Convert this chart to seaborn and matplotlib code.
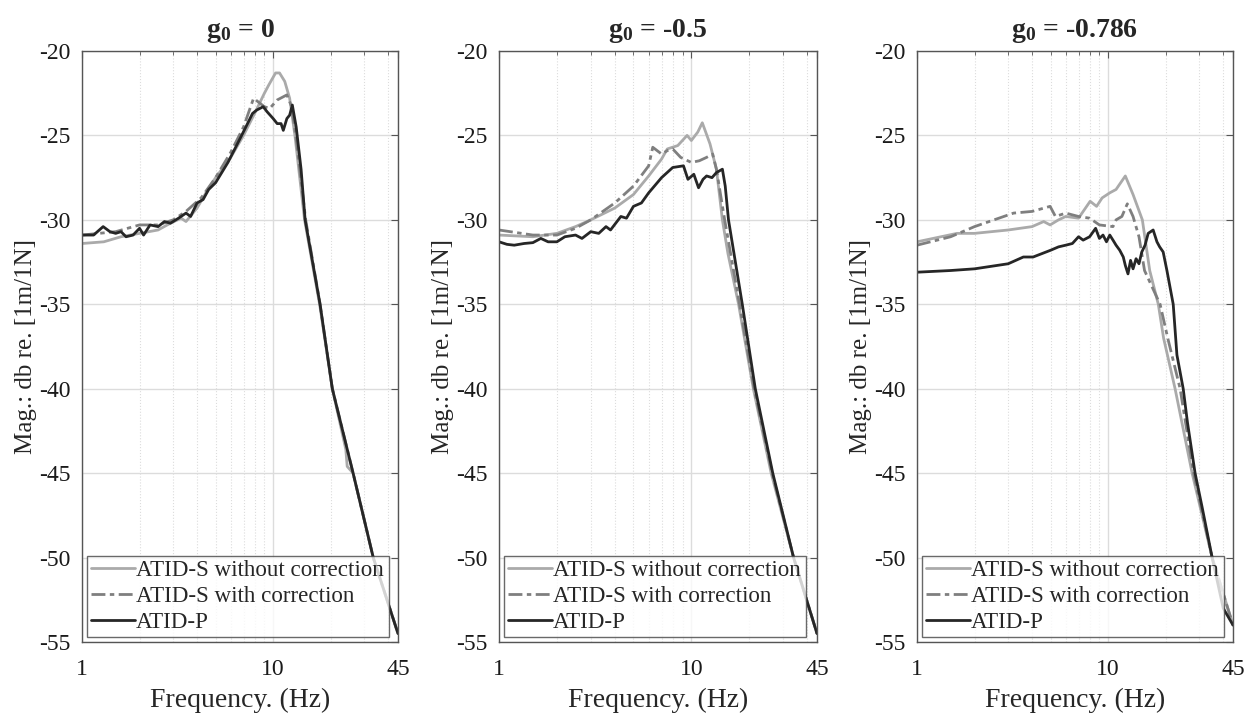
import matplotlib
matplotlib.use('Agg')
import matplotlib.pyplot as plt
import seaborn as sns
import numpy as np
from matplotlib.ticker import FixedLocator, NullFormatter

# ---------------- data ----------------
titles = ['0', '-0.5', '-0.786']
labels = ['ATID-S without correction', 'ATID-S with correction', 'ATID-P']

# g0 = 0
f1_nc = [1, 1.3, 1.6, 2.0, 2.5, 2.9, 3.3, 3.5, 4.0, 4.5, 5.0, 6.0, 7.0, 8.0, 9.0, 9.5, 10.3, 10.8, 11.5, 12.2, 13.0,
         14.6, 17.5, 20.4, 24.0, 24.4, 26.2, 33.4, 45]
m1_nc = [-31.4, -31.3, -31.0, -30.8, -30.6, -30.2, -29.9, -30.1, -29.3, -28.3, -27.5, -26.3, -25.0, -23.7, -22.5,
         -22.0, -21.3, -21.3, -21.8, -22.8, -25.0, -30.0, -35.0, -40.0, -43.6, -44.6, -45.0, -50.0, -54.5]
f1_c = [1, 1.5, 2.0, 2.5, 3.0, 3.5, 4.2, 5.0, 6.0, 7.0, 7.9, 9.0, 9.6, 10.5, 11.8, 12.5, 13.3, 14.8, 17.6, 20.4,
        26.2, 33.4, 45]
m1_c = [-30.9, -30.7, -30.3, -30.3, -30.0, -29.5, -28.7, -27.5, -26.0, -24.5, -22.8, -23.3, -23.4, -22.9, -22.6,
        -23.3, -25.5, -30.0, -35.0, -40.0, -45.0, -50.0, -54.5]
f1_p = [1, 1.15, 1.29, 1.4, 1.5, 1.6, 1.7, 1.85, 2.0, 2.1, 2.27, 2.5, 2.7, 2.9, 3.2, 3.5, 3.7, 4.0, 4.3, 4.6, 5.0,
        5.8, 6.5, 7.2, 7.8, 8.2, 8.87, 9.3, 10.0, 10.5, 11.0, 11.3, 11.8, 12.2, 12.6, 13.2, 14.0, 14.7, 17.6,
        20.4, 26.2, 33.4, 45]
m1_p = [-30.9, -30.9, -30.4, -30.7, -30.8, -30.7, -31.0, -30.9, -30.5, -30.9, -30.3, -30.4, -30.1, -30.2, -29.9,
        -29.6, -29.8, -29.0, -28.8, -28.2, -27.8, -26.6, -25.5, -24.5, -23.7, -23.5, -23.3, -23.6, -24.0, -24.3,
        -24.3, -24.7, -24.0, -23.8, -23.2, -24.5, -27.0, -30.0, -35.0, -40.0, -45.0, -50.0, -54.5]

# g0 = -0.5
f2_nc = [1, 1.5, 2.0, 2.5, 3.0, 4.0, 5.0, 6.0, 7.0, 7.5, 8.5, 9.5, 10.0, 10.8, 11.4, 12.5, 13.5, 14.5, 15.5,
         17.6, 21.0, 26.0, 34.0, 45]
m2_nc = [-30.9, -31.0, -30.8, -30.4, -30.0, -29.3, -28.5, -27.4, -26.4, -25.8, -25.6, -25.0, -25.3, -24.8,
         -24.25, -25.5, -27.0, -30.0, -32.0, -35.0, -40.0, -45.0, -50.0, -54.5]
f2_c = [1, 1.5, 2.0, 2.5, 3.0, 4.0, 5.0, 6.0, 6.3, 7.0, 7.5, 8.0, 8.8, 10.0, 11.0, 12.0, 12.9, 13.5, 14.9, 17.8,
        21.2, 26.3, 34.0, 45]
m2_c = [-30.6, -30.9, -30.9, -30.5, -30.0, -29.0, -28.0, -26.8, -25.7, -26.1, -25.9, -25.8, -26.3, -26.6,
        -26.5, -26.3, -26.1, -27.0, -30.0, -35.0, -40.0, -45.0, -50.0, -54.5]
f2_p = [1, 1.1, 1.2, 1.35, 1.5, 1.65, 1.8, 2.0, 2.2, 2.5, 2.7, 3.0, 3.3, 3.6, 3.8, 4.3, 4.6, 5.0, 5.5, 6.0, 7.0,
        8.0, 9.1, 9.6, 10.3, 10.9, 11.5, 12.0, 12.8, 13.5, 14.5, 15.0, 15.6, 18.4, 21.5, 26.5, 34.0, 45]
m2_p = [-31.3, -31.45, -31.5, -31.4, -31.35, -31.1, -31.3, -31.3, -31.0, -30.9, -31.1, -30.7, -30.8, -30.4,
        -30.6, -29.8, -29.9, -29.2, -29.0, -28.4, -27.5, -26.9, -26.8, -27.6, -27.3, -28.1, -27.6, -27.4,
        -27.5, -27.2, -27.0, -28.0, -30.0, -35.0, -40.0, -45.0, -50.0, -54.5]

# g0 = -0.786
f3_nc = [1, 1.62, 2.0, 3.0, 4.0, 4.6, 4.97, 5.5, 6.0, 7.0, 8.05, 8.7, 9.3, 10.2, 11.0, 12.3, 13.5, 15.1, 16.5,
         18.3, 19.5, 22.4, 27.5, 35.0, 45]
m3_nc = [-31.3, -30.8, -30.8, -30.6, -30.4, -30.1, -30.3, -30.0, -29.8, -29.9, -28.9, -29.2, -28.7, -28.4,
         -28.2, -27.4, -28.5, -30.0, -33.0, -35.0, -37.0, -40.0, -45.0, -50.0, -54.0]
f3_c = [1, 1.5, 2.0, 3.2, 4.0, 4.97, 5.3, 6.0, 7.0, 8.0, 9.0, 10.6, 11.0, 11.8, 12.6, 13.5, 14.5, 15.5, 18.7,
        20.5, 23.8, 28.0, 35.0, 45]
m3_c = [-31.5, -31.0, -30.4, -29.6, -29.5, -29.2, -29.8, -29.6, -29.8, -29.9, -30.3, -30.4, -30.0, -29.8,
        -29.05, -29.8, -31.0, -33.0, -35.0, -37.0, -40.0, -45.0, -50.0, -54.0]
f3_p = [1, 1.5, 2.0, 3.0, 3.6, 4.05, 4.5, 5.0, 5.5, 6.0, 6.5, 7.0, 7.4, 8.0, 8.6, 9.0, 9.4, 9.8, 10.2, 10.6,
        11.0, 11.5, 12.0, 12.3, 12.7, 13.1, 13.5, 14.0, 14.5, 15.0, 15.6, 16.2, 17.2, 18.0, 18.6, 19.4, 20.3,
        21.9, 22.9, 24.7, 26.0, 28.5, 31.0, 35.0, 40.0, 45]
m3_p = [-33.1, -33.0, -32.9, -32.6, -32.2, -32.2, -32.0, -31.8, -31.6, -31.5, -31.4, -31.0, -31.2, -31.0,
        -30.5, -31.1, -30.9, -31.3, -30.9, -31.2, -31.5, -31.8, -32.2, -32.7, -33.2, -32.4, -32.9, -32.3,
        -32.6, -31.9, -31.5, -30.8, -30.6, -31.3, -31.6, -31.9, -33.0, -35.0, -38.0, -40.0, -42.0, -45.0,
        -47.0, -50.0, -53.0, -54.0]

freqs = [[f1_nc, f1_c, f1_p], [f2_nc, f2_c, f2_p], [f3_nc, f3_c, f3_p]]
mags = [[m1_nc, m1_c, m1_p], [m2_nc, m2_c, m2_p], [m3_nc, m3_c, m3_p]]

colors = ['#aaaaaa', '#7f7f7f', '#262626']
styles = ['-', (0, (5, 1.6, 1.6, 1.6)), '-']

# ---------------- style ----------------
sns.set_style('white')
plt.rcParams['font.family'] = ['Liberation Serif', 'DejaVu Serif']
plt.rcParams['axes.unicode_minus'] = False
plt.rcParams['mathtext.fontset'] = 'custom'
plt.rcParams['mathtext.rm'] = 'Liberation Serif'
plt.rcParams['mathtext.bf'] = 'Liberation Serif:bold'
plt.rcParams['mathtext.it'] = 'Liberation Serif:italic'

fig = plt.figure(figsize=(12.59, 7.15), dpi=100)
W, H = 1259, 715
lefts = [82, 499, 917]
widths = [316, 318, 316]

for i in range(3):
    ax = fig.add_axes([lefts[i] / W, 73 / H, widths[i] / W, 591 / H])
    for j in range(3):
        sns.lineplot(x=freqs[i][j], y=mags[i][j], ax=ax, color=colors[j], linestyle=styles[j],
                     linewidth=2.0, label=labels[j], sort=False, estimator=None)
    ax.set_xscale('log')
    ax.set_xlim(1, 45)
    ax.set_ylim(-55, -20)
    ax.set_xticks([1, 10, 45])
    ax.set_xticklabels(['1', '10', '45'])
    ax.xaxis.set_minor_locator(FixedLocator([2, 3, 4, 5, 6, 7, 8, 9, 20, 30, 40]))
    ax.xaxis.set_minor_formatter(NullFormatter())
    ax.set_yticks(np.arange(-55, -19, 5))
    ax.grid(True, which='major', color='#dcdcdc', linewidth=1.0, linestyle='-')
    ax.grid(True, which='minor', axis='x', color='#dcdcdc', linewidth=0.8, linestyle=':')
    ax.tick_params(which='both', direction='in', top=True, right=True, colors='#555555',
                   labelcolor='#1a1a1a', labelsize=17)
    ax.tick_params(which='major', length=5, pad=8)
    ax.tick_params(axis='x', which='major', pad=12)
    ax.tick_params(which='minor', length=3)
    for s in ax.spines.values():
        s.set_color('#555555')
        s.set_linewidth(1.0)
    ax.set_xlabel('Frequency. (Hz)', fontsize=20, color='#262626', labelpad=6)
    ax.set_ylabel('Mag.: db re. [1m/1N]', fontsize=18, color='#262626', labelpad=2)
    ax.set_title(r'$\mathbf{g_0}$ = ' + titles[i], fontsize=20, fontweight='bold', pad=10)
    leg = ax.legend(loc='lower left', fontsize=16.6, frameon=True, fancybox=False, handlelength=1.9,
                    handletextpad=0.05, borderpad=0.2, labelspacing=0.2, borderaxespad=0.2)
    leg.get_frame().set_edgecolor('#444444')
    leg.get_frame().set_linewidth(1.0)

fig.savefig('out.png', dpi=100)
